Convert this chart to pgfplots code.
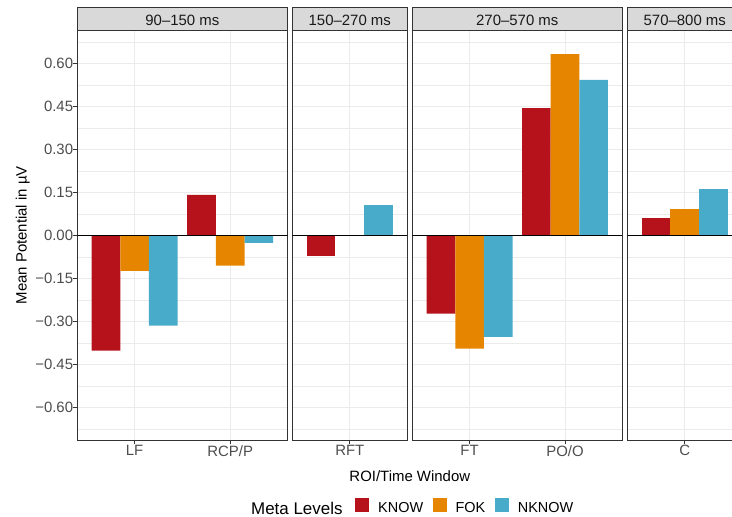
\documentclass[border=0pt]{standalone}
\usepackage{pgfplots}
\usepackage{pgfplotstable}
\pgfplotsset{compat=1.18}
\usepackage{fontspec}
\setmainfont{Liberation Sans}
\definecolor{know}{HTML}{B5121B}
\definecolor{fok}{HTML}{E68600}
\definecolor{nknow}{HTML}{47ABC9}
\definecolor{g20}{HTML}{333333}
\definecolor{g30}{HTML}{4D4D4D}
\definecolor{g85}{HTML}{D9D9D9}
\definecolor{g92}{HTML}{EBEBEB}
\newcommand\fs{\fontsize{15}{18}\selectfont}

\pgfplotstableread{
x know fok nknow
1 -0.402 -0.124 -0.315
2 0.141 -0.106 -0.026
}\panelA
\pgfplotstableread{
x know fok nknow
1 -0.071 0.000 0.106
}\panelB
\pgfplotstableread{
x know fok nknow
1 -0.273 -0.395 -0.354
2 0.444 0.632 0.542
}\panelC
\pgfplotstableread{
x know fok nknow
1 0.060 0.092 0.162
}\panelD

\pgfplotsset{
  panel/.style={
    scale only axis, height=410bp,
    anchor=south west,
    ymin=-0.715, ymax=0.715,
    axis line style={g20, line width=1bp},
    ytick={-0.6,-0.45,-0.3,-0.15,0,0.15,0.3,0.45,0.6},
    minor ytick={-0.675,-0.525,-0.375,-0.225,-0.075,0.075,0.225,0.375,0.525,0.675},
    ymajorgrids, yminorgrids, xmajorgrids,
    major grid style={g92, line width=0.9bp},
    minor grid style={g92, line width=0.5bp},
    minor tick length=0pt,
    tick pos=left,
    tick align=outside, major tick length=4bp,
    tick style={g20, line width=0.9bp},
    xticklabel style={font=\fs, text=g30, inner sep=0pt, yshift=-1bp},
    yticklabel style={font=\fs, text=g30, inner sep=0pt},
    bar width=0.3,
  },
  noy/.style={yticklabels={}, ytick style={draw=none}},
  kn/.style={ybar, bar shift=-0.3, fill=know, draw=none},
  fk/.style={ybar, bar shift=0, fill=fok, draw=none},
  nk/.style={ybar, bar shift=0.3, fill=nknow, draw=none},
  zl/.style={black, line width=0.9bp, forget plot},
}

\begin{document}
\begin{tikzpicture}
% Panel 1
\begin{axis}[panel, at={(77.3bp,76.7bp)}, width=210.2bp,
  xmin=0.4, xmax=2.6, xtick={1,2}, xticklabels={LF,RCP/P},
  yticklabels={\textminus0.60,\textminus0.45,\textminus0.30,\textminus0.15,0.00,0.15,0.30,0.45,0.60},
  legend columns=3,
  legend style={at={(1.3211,-0.160)}, anchor=west, draw=none, fill=none, inner sep=0pt,
    font=\fontsize{14.5}{17}\selectfont, nodes={inner sep=0pt, text=black},
    /tikz/every odd column/.append style={column sep=9bp},
    /tikz/every even column/.append style={column sep=9.5bp}},
  legend image code/.code={\fill[#1] (0bp,-4bp) rectangle (14bp,9.7bp);},
]
\addplot[kn] table[x=x,y=know]{\panelA};
\addplot[fk] table[x=x,y=fok]{\panelA};
\addplot[nk] table[x=x,y=nknow]{\panelA};
\addplot[zl] coordinates {(0.4,0) (2.6,0)};
\legend{KNOW,FOK,NKNOW}
\end{axis}
% Panel 2
\begin{axis}[panel, noy, at={(292.3bp,76.7bp)}, width=115bp,
  xmin=0.4, xmax=1.6, xtick={1}, xticklabels={RFT}]
\addplot[kn] table[x=x,y=know]{\panelB};
\addplot[fk] table[x=x,y=fok]{\panelB};
\addplot[nk] table[x=x,y=nknow]{\panelB};
\addplot[zl] coordinates {(0.4,0) (1.6,0)};
\end{axis}
% Panel 3
\begin{axis}[panel, noy, at={(412.3bp,76.7bp)}, width=210bp,
  xmin=0.4, xmax=2.6, xtick={1,2}, xticklabels={FT,PO/O}]
\addplot[kn] table[x=x,y=know]{\panelC};
\addplot[fk] table[x=x,y=fok]{\panelC};
\addplot[nk] table[x=x,y=nknow]{\panelC};
\addplot[zl] coordinates {(0.4,0) (2.6,0)};
\end{axis}
% Panel 4
\begin{axis}[panel, noy, at={(627.3bp,76.7bp)}, width=115bp,
  xmin=0.4, xmax=1.6, xtick={1}, xticklabels={C}]
\addplot[kn] table[x=x,y=know]{\panelD};
\addplot[fk] table[x=x,y=fok]{\panelD};
\addplot[nk] table[x=x,y=nknow]{\panelD};
\addplot[zl] coordinates {(0.4,0) (1.6,0)};
\end{axis}
% strips
\foreach \xa/\w/\lab in {77.3/210.2/90–150 ms, 292.3/115/150–270 ms, 412.3/210/270–570 ms, 627.3/115/570–800 ms}{
  \pgfmathsetmacro\xb{\xa+\w}
  \pgfmathsetmacro\xc{\xa+\w/2}
  \draw[fill=g85, draw=g20, line width=1bp] (\xa bp,486.7bp) rectangle (\xb bp,509bp);
  \node[anchor=base, inner sep=0pt, font=\fs, text={black!90}] at (\xc bp,491.7bp) {\lab};
}
% axis titles
\node[rotate=90, anchor=base, inner sep=0pt, font=\fs] at (26.7bp,281.7bp) {Mean Potential in µV};
\node[anchor=base, inner sep=0pt, font=\fs] at (409.8bp,35.3bp) {ROI/Time Window};
\node[anchor=base west, inner sep=0pt, font=\fontsize{17}{20}\selectfont] at (251bp,2.7bp) {Meta Levels};
\pgfresetboundingbox
\useasboundingbox (0,0) rectangle (732bp,517bp);
\end{tikzpicture}
\end{document}
